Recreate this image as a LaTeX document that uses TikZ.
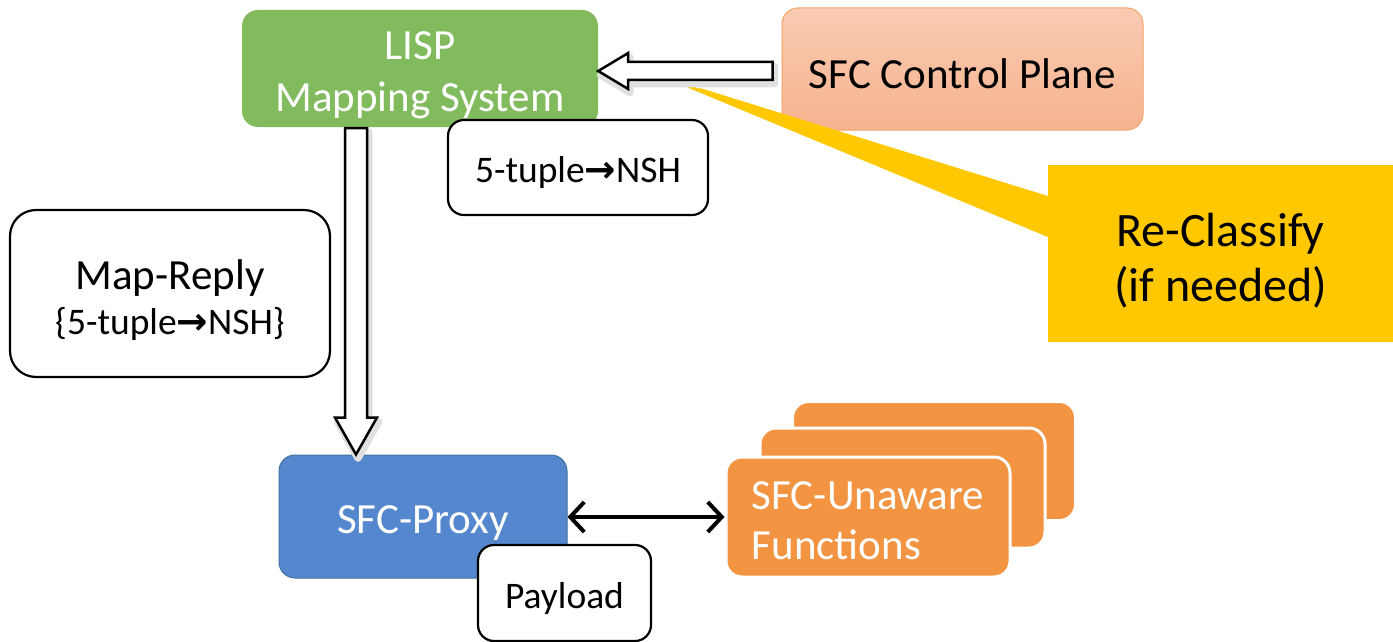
\documentclass[tikz,border=0pt]{standalone}
\usepackage{fontspec}
\setmainfont{Carlito}
\newfontfamily\arrfont{DejaVu Sans}
\usetikzlibrary{arrows.meta,calc}
\definecolor{lispgreen}{HTML}{82BB5E}
\definecolor{peachtop}{HTML}{F9CBB2}
\definecolor{peachbot}{HTML}{F6B38F}
\definecolor{peachline}{HTML}{F4A266}
\definecolor{proxyblue}{HTML}{5587CE}
\definecolor{proxyline}{HTML}{41719C}
\definecolor{sfcorange}{HTML}{F29441}
\definecolor{calloutyellow}{HTML}{FFC800}
\newcommand\bigtxt{\fontsize{43}{52}\selectfont}
\newcommand\smalltxt{\fontsize{37.5}{44}\selectfont}
\newcommand\rarr{{\arrfont\bfseries →}}
\newcommand\dn[2]{\raisebox{-#1}[\height][\depth]{#2}}
\tikzset{
  box/.style={rounded corners=16pt, inner sep=0pt, align=center},
  greenbox/.style={box, fill=lispgreen, text=white, font=\bigtxt},
  peachbox/.style={box, top color=peachtop, bottom color=peachbot, draw=peachline, line width=1pt, font=\bigtxt},
  bluebox/.style={box, fill=proxyblue, draw=proxyline, line width=1pt, text=white, font=\bigtxt},
  whitebox/.style={box, fill=white, draw=black, line width=2.2pt},
  orangebox/.style={box, fill=sfcorange, draw=white, line width=3pt, text=white, font=\bigtxt},
  blockarrow/.style={fill=white, draw=black, line width=2.5pt, line join=miter},
  arrowshadow/.style={transform canvas={shift={(2pt,-4pt)}}, fill=black!12, draw=black!12, line width=7pt, line join=round},
  dblarrow/.style={line width=4pt, {Straight Barb[length=14pt,width=30pt,line width=4pt]}-{Straight Barb[length=14pt,width=30pt,line width=4pt]}}
}
\begin{document}
\begin{tikzpicture}[x=1pt,y=-1pt]
\useasboundingbox (0,0) rectangle (1393,642);

% SFC control plane
\node[peachbox, minimum width=361, minimum height=122] (ctrl) at (962.5,69) {\dn{5pt}{SFC Control Plane}};

% callout
\node[fill=calloutyellow, inner sep=0pt, minimum width=345, minimum height=177, align=center, font=\fontsize{48}{55}\selectfont] (callout) at (1220.5,253.5) {\dn{7pt}{Re-Classify}\\\dn{7pt}{(if needed)}};
\coordinate (ctip) at (655,74);
\fill[calloutyellow] (ctip) -- (callout.west |- 0,196) -- (callout.west |- 0,237) -- cycle;
\draw[white, line width=1.5pt] (ctip) -- (700,88);

% LISP mapping system
\node[greenbox, minimum width=356, minimum height=117] (lisp) at (420,68.5) {\dn{7pt}{LISP}\\\dn{7pt}{Mapping System}};

% horizontal block arrow (ctrl -> lisp)
\coordinate (htip) at (lisp.east |- 0,71);
\coordinate (hend) at (ctrl.west |- 0,71);
\path[arrowshadow] (htip) -- ++(30,-18) -- ++(0,9) -- ($(hend)+(-9,-9)$) -- ++(0,18) -- ($(htip)+(30,9)$) -- ++(0,9) -- cycle;
\draw[blockarrow] (htip) -- ++(30,-18) -- ++(0,9) -- ($(hend)+(-9,-9)$) -- ++(0,18) -- ($(htip)+(30,9)$) -- ++(0,9) -- cycle;

% 5-tuple box
\node[whitebox, minimum width=260, minimum height=95, font=\smalltxt] (tuple) at (578,167.5) {\dn{5pt}{5-tuple\rarr NSH}};

% Map-Reply box
\node[whitebox, minimum width=320, minimum height=167, rounded corners=26pt] (reply) at (170,293.5) {{\bigtxt\dn{6.5pt}{Map-Reply}}\\[10pt]{\smalltxt\dn{6.5pt}{\{5-tuple\rarr NSH\}}}};

% SFC-Proxy
\node[bluebox, minimum width=288, minimum height=123] (proxy) at (423,516.5) {\dn{7pt}{SFC-Proxy}};

% vertical block arrow (lisp -> proxy)
\coordinate (vtop) at (356,128);
\coordinate (vtip) at (proxy.north -| vtop);
\path[arrowshadow] ($(vtop)+(-11,0)$) -- ($(vtop)+(11,0)$) -- ($(vtip)+(11,-37)$) -- ++(10,0) -- (vtip) -- ($(vtip)+(-21,-37)$) -- ++(10,0) -- cycle;
\draw[blockarrow] ($(vtop)+(-11,0)$) -- ($(vtop)+(11,0)$) -- ($(vtip)+(11,-37)$) -- ++(10,0) -- (vtip) -- ($(vtip)+(-21,-37)$) -- ++(10,0) -- cycle;

% Payload
\node[whitebox, minimum width=173, minimum height=96, font=\smalltxt] (payload) at (564.5,593) {\dn{5pt}{Payload}};

% SFC-unaware functions stack
\node[orangebox, minimum width=283, minimum height=119] (f3) at (934,461) {};
\node[orangebox, minimum width=285, minimum height=120] (f2) at (902.5,488) {};
\node[orangebox, minimum width=284, minimum height=120, align=left, font=\fontsize{43}{50}\selectfont] (f1) at (868,517) {\dn{3.5pt}{SFC-Unaware}\\\dn{3.5pt}{Functions}};

% double arrow
\draw[dblarrow] (proxy.east |- 0,517) -- (f1.west |- 0,517);
\end{tikzpicture}
\end{document}
